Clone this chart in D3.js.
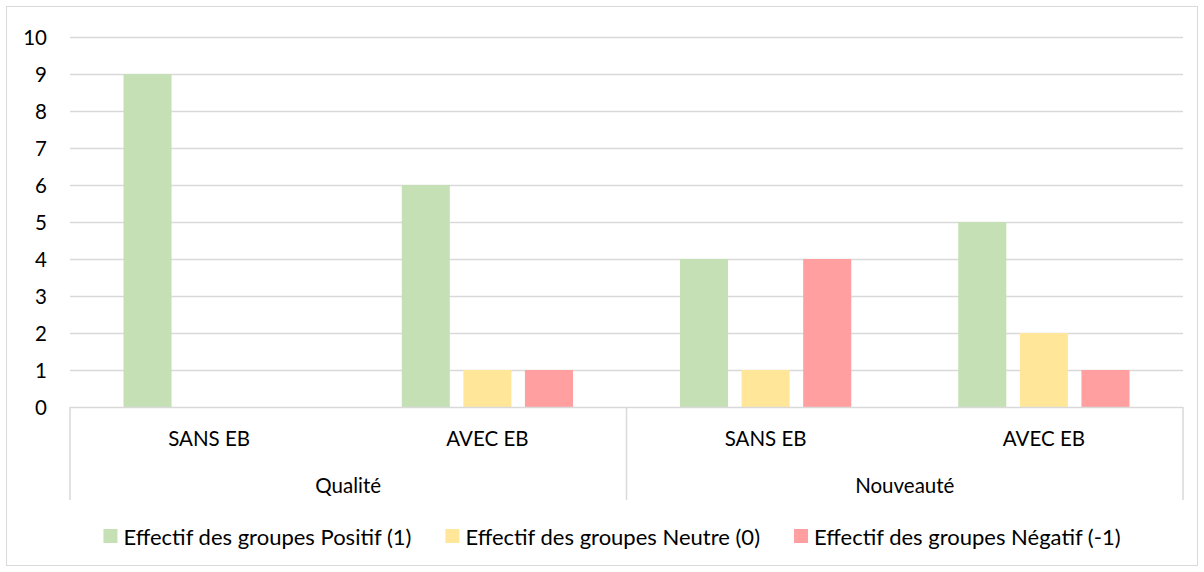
<!DOCTYPE html>
<html>
<head>
<meta charset="utf-8">
<script src="https://cdn.jsdelivr.net/npm/d3@7"></script>
<style>
  html, body { margin: 0; padding: 0; background: #fff; }
  svg { display: block; font-family: "Lato", "Open Sans", sans-serif; }
</style>
</head>
<body>
<svg id="chart" width="1204" height="572"></svg>
<script>
// Groups (outer level) and conditions (inner level)
const groups = ["Qualité", "Nouveauté"];
const conditions = ["SANS EB", "AVEC EB"];
// Series names
const seriesNames = [
  "Effectif des groupes Positif (1)",
  "Effectif des groupes Neutre (0)",
  "Effectif des groupes Négatif (-1)"
];
// Values per category (Qualité SANS, Qualité AVEC, Nouveauté SANS, Nouveauté AVEC)
const positif = [9, 6, 4, 5];
const neutre  = [0, 1, 1, 2];
const negatif = [0, 1, 4, 1];
const yTicks = [0, 1, 2, 3, 4, 5, 6, 7, 8, 9, 10];
const colors = ["#C5E0B4", "#FFE699", "#FF9F9F"];

const seriesValues = [positif, neutre, negatif];
const categories = [];
groups.forEach(g => conditions.forEach(c => categories.push({ group: g, cond: c, key: g + "|" + c })));

const FS = 20.5;
const FS_LEGEND = 22;
const svg = d3.select("#chart");
const plot = { left: 70, right: 1183, top: 37, bottom: 407 };

// Chart border
svg.append("rect")
  .attr("x", 6.5).attr("y", 6.5)
  .attr("width", 1191).attr("height", 559)
  .attr("fill", "#fff").attr("stroke", "#D9D9D9").attr("stroke-width", 1);

const y = d3.scaleLinear().domain([0, 10]).range([plot.bottom, plot.top]);
const x0 = d3.scaleBand().domain(categories.map(d => d.key)).range([plot.left, plot.right]).padding(0);
const bw = x0.bandwidth();
const x1 = d3.scaleBand().domain(d3.range(seriesNames.length))
  .range([bw * 0.1923, bw * 0.8077]).paddingInner(0.22).paddingOuter(0);

// Gridlines
svg.append("g").selectAll("line").data(yTicks.filter(t => t > 0)).join("line")
  .attr("x1", plot.left).attr("x2", plot.right)
  .attr("y1", d => Math.round(y(d)) + 0.5).attr("y2", d => Math.round(y(d)) + 0.5)
  .attr("stroke", "#D9D9D9").attr("stroke-width", 1.5);

// Y tick labels
svg.append("g").selectAll("text").data(yTicks).join("text")
  .attr("x", 47).attr("y", d => y(d))
  .attr("text-anchor", "end").attr("dominant-baseline", "central")
  .attr("font-size", FS).attr("fill", "#000")
  .text(d => d);

// Bars
const barData = [];
categories.forEach((c, i) => seriesValues.forEach((vals, s) => barData.push({ key: c.key, s, v: vals[i] })));
svg.append("g").selectAll("rect").data(barData.filter(d => d.v > 0)).join("rect")
  .attr("x", d => x0(d.key) + x1(d.s))
  .attr("y", d => y(d.v))
  .attr("width", x1.bandwidth())
  .attr("height", d => y(0) - y(d.v))
  .attr("fill", d => colors[d.s]);

// X axis line and hierarchical separators
const axisG = svg.append("g").attr("stroke", "#D9D9D9").attr("stroke-width", 1.5);
axisG.append("line").attr("x1", plot.left).attr("x2", plot.right)
  .attr("y1", plot.bottom + 0.5).attr("y2", plot.bottom + 0.5);
const groupEdges = [plot.left, x0(categories[2].key), plot.right];
axisG.selectAll("line.sep").data(groupEdges).join("line").attr("class", "sep")
  .attr("x1", d => d).attr("x2", d => d)
  .attr("y1", plot.bottom).attr("y2", 500);

// Condition labels
svg.append("g").selectAll("text").data(categories).join("text")
  .attr("x", d => x0(d.key) + bw / 2).attr("y", 438)
  .attr("text-anchor", "middle").attr("dominant-baseline", "central")
  .attr("font-size", FS).attr("fill", "#000")
  .text(d => d.cond);

// Group labels
svg.append("g").selectAll("text").data(groups).join("text")
  .attr("x", (d, i) => (groupEdges[i] + groupEdges[i + 1]) / 2).attr("y", 485)
  .attr("text-anchor", "middle").attr("dominant-baseline", "central")
  .attr("font-size", FS).attr("fill", "#000")
  .text(d => d);

// Legend
const legend = svg.append("g");
const items = legend.selectAll("g").data(seriesNames).join("g");
items.append("rect").attr("width", 14).attr("height", 14).attr("y", -7)
  .attr("fill", (d, i) => colors[i]);
items.append("text").attr("x", 20).attr("y", 0)
  .attr("dominant-baseline", "central").attr("font-size", FS_LEGEND).attr("fill", "#000")
  .text(d => d);
const widths = [];
items.each(function () { widths.push(20 + d3.select(this).select("text").node().getComputedTextLength()); });
const gap = 34;
const total = d3.sum(widths) + gap * (widths.length - 1);
let cx = 612 - total / 2;
items.each(function (d, i) {
  d3.select(this).attr("transform", `translate(${cx},536)`);
  cx += widths[i] + gap;
});
</script>
</body>
</html>
